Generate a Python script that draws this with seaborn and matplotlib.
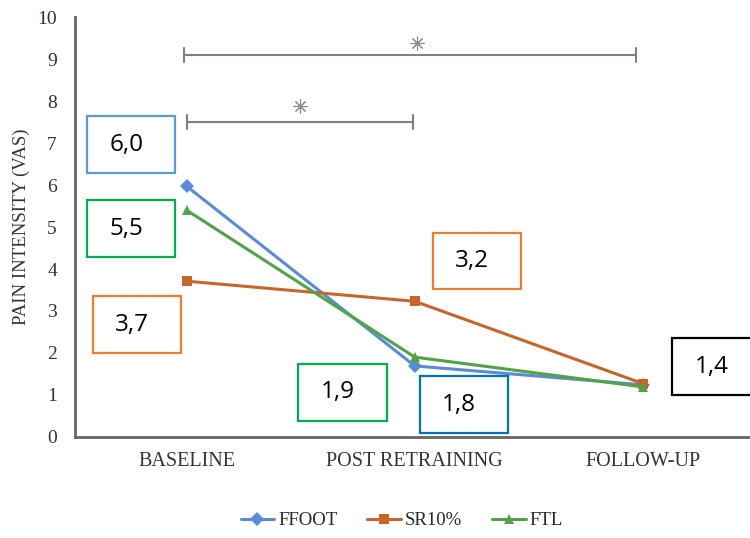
import pandas as pd
import matplotlib.pyplot as plt
import seaborn as sns
from matplotlib.patches import Rectangle

# values
moments = ['BASELINE', 'POST RETRAINING', 'FOLLOW-UP']
ffoot = [5.97, 1.69, 1.24]
sr10 = [3.71, 3.23, 1.27]
ftl = [5.40, 1.90, 1.19]
groups = ['FFOOT', 'SR10%', 'FTL']

# boxed labels: text, frame colour, centre x (category units), centre y (VAS)
box_text = ['6,0', '5,5', '3,7', '3,2', '1,9', '1,8', '1,4']
box_color = ['#5B9BD5', '#00B050', '#ED7D31', '#ED7D31', '#00B050',
             '#0070C0', '#000000']
box_x = [-0.244, -0.244, -0.220, 1.273, 0.683, 1.214, 2.321]
box_y = [6.96, 4.96, 2.67, 4.19, 1.06, 0.77, 1.67]

colors = {'FFOOT': '#5B8BD6', 'SR10%': '#C8652A', 'FTL': '#52A347'}
markers = {'FFOOT': 'D', 'SR10%': 's', 'FTL': '^'}


def build_frame():
    """
    Puts the three series into one long table for seaborn.
    """
    rows = []
    for name, vals in zip(groups, [ffoot, sr10, ftl]):
        for i, v in enumerate(vals):
            rows.append({'Moment': i, 'Group': name, 'VAS': v})
    return pd.DataFrame(rows)


def bracket(ax, x0, x1, y, star_x, star_y):
    gray = '#808080'
    ax.plot([x0, x1], [y, y], color=gray, lw=1.5)
    ax.plot([x0, x0], [y - 0.16, y + 0.16], color=gray, lw=1.5)
    ax.plot([x1, x1], [y - 0.16, y + 0.16], color=gray, lw=1.5)
    ax.plot([star_x], [star_y], marker=(8, 2, 0), markersize=10,
            color='#8a8a8a', markeredgewidth=0.8)


def main():
    sns.set_style('white')
    plt.rcParams['font.family'] = ['Liberation Serif', 'DejaVu Serif']

    fig = plt.figure(figsize=(7.5, 5.38), dpi=100)
    ax = fig.add_axes([0.1, 0.188, 0.9, 0.78])

    df = build_frame()
    sns.lineplot(data=df, x='Moment', y='VAS', hue='Group', style='Group',
                 palette=colors, markers=markers, dashes=False,
                 markersize=7.5, linewidth=2.2, markeredgewidth=0,
                 ax=ax, legend=True)

    ax.set_xlim(-0.49, 2.47)
    ax.set_ylim(0, 10)
    ax.set_yticks(range(0, 11))
    ax.set_xticks(range(3))
    ax.set_xticklabels(moments, fontsize=14.5)
    ax.tick_params(axis='y', labelsize=14, length=0, pad=13)
    ax.tick_params(axis='x', length=0, pad=11)
    ax.set_xlabel('')
    ax.set_ylabel('PAIN INTENSITY (VAS)', fontsize=13.5, color='#333333',
                  labelpad=5)
    for lab in ax.get_xticklabels() + ax.get_yticklabels():
        lab.set_color('#333333')

    for side in ['top', 'right']:
        ax.spines[side].set_visible(False)
    for side in ['left', 'bottom']:
        ax.spines[side].set_color('#666666')
        ax.spines[side].set_linewidth(2)

    # significance brackets
    bracket(ax, -0.012, 1.97, 9.1, 1.01, 9.38)
    bracket(ax, 0.001, 0.992, 7.5, 0.497, 7.88)

    # value boxes
    bw, bh = 0.386, 1.357
    for t, c, x, y in zip(box_text, box_color, box_x, box_y):
        ax.add_patch(Rectangle((x - bw / 2, y - bh / 2), bw, bh,
                               facecolor='white', edgecolor=c, lw=1.6,
                               zorder=5, clip_on=False))
        ax.text(x - 0.02, y, t, ha='center', va='center', fontsize=17.5,
                family='Open Sans', color='black', zorder=6)

    handles, labels = ax.get_legend_handles_labels()
    ax.legend(handles, labels, loc='center', bbox_to_anchor=(0.484, -0.2),
              ncol=3, frameon=False, fontsize=13.5, handlelength=1.8,
              handletextpad=0.2, columnspacing=1.6)

    fig.savefig('out.png', dpi=100)


if __name__ == '__main__':
    main()
